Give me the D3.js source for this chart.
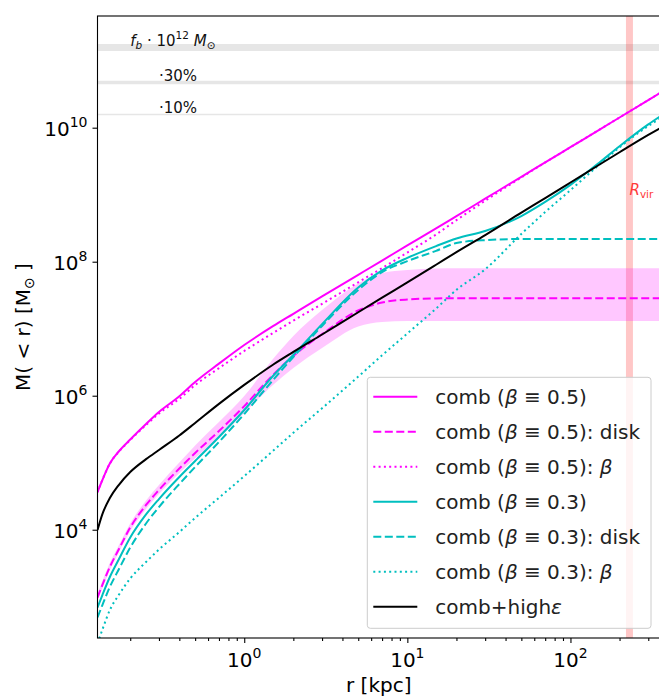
<!DOCTYPE html>
<html>
<head>
<meta charset="utf-8">
<script src="https://cdn.jsdelivr.net/npm/d3@7"></script>
<style>
  body { margin: 0; background: #fff; }
  svg { font-family: "DejaVu Sans", sans-serif; }
</style>
</head>
<body>
<div id="chart"></div>
<script>
var radius = [0.126, 0.135, 0.15, 0.17, 0.2, 0.25, 0.3, 0.4, 0.5, 0.7, 1, 1.5, 2, 3, 5, 7, 10, 15, 20, 30, 50, 70, 100, 150, 200, 300, 354];

// comb (beta = 0.5) - magenta
var combB05 = [3.64e4, 5.52e4, 9.7e4, 1.47e5, 2.22e5, 3.78e5, 5.71e5, 9.8e5, 1.6e6, 3.01e6, 5.71e6, 1.09e7, 1.67e7, 3.04e7, 6.38e7, 1.04e8, 1.75e8, 3.14e8, 4.79e8, 8.71e8, 1.85e9, 3.03e9, 5.12e9, 9.29e9, 1.42e10, 2.58e10, 3.29e10];
var combB05Disk = [973, 1.5e3, 2.78e3, 5.06e3, 1.08e4, 2.34e4, 3.92e4, 8.2e4, 1.4e5, 2.97e5, 7.0e5, 2.04e6, 3.92e6, 8.3e6, 1.87e7, 2.46e7, 2.73e7, 2.83e7, 2.85e7, 2.85e7, 2.85e7, 2.85e7, 2.85e7, 2.85e7, 2.85e7, 2.85e7, 2.85e7];
var combB05DiskLow = [877, 1.35e3, 2.5e3, 4.57e3, 9.55e3, 2.04e4, 3.41e4, 7.02e4, 1.17e5, 2.38e5, 5.52e5, 1.45e6, 2.59e6, 5.15e6, 1.08e7, 1.26e7, 1.3e7, 1.3e7, 1.3e7, 1.3e7, 1.3e7, 1.3e7, 1.3e7, 1.3e7, 1.3e7, 1.3e7, 1.3e7];
var combB05DiskHigh = [1.12e3, 1.72e3, 3.18e3, 5.81e3, 1.24e4, 2.73e4, 4.65e4, 1.01e5, 1.81e5, 4.05e5, 9.9e5, 3.53e6, 7.8e6, 1.9e7, 4.73e7, 6.78e7, 7.52e7, 7.92e7, 7.97e7, 7.97e7, 7.97e7, 7.97e7, 7.97e7, 7.97e7, 7.97e7, 7.97e7, 7.97e7];
var combB05Beta = [3.64e4, 5.52e4, 9.7e4, 1.45e5, 2.18e5, 3.66e5, 5.43e5, 9.0e5, 1.44e6, 2.58e6, 4.65e6, 8.6e6, 1.32e7, 2.35e7, 4.93e7, 8.04e7, 1.37e8, 2.55e8, 4.17e8, 8.13e8, 1.81e9, 3.03e9, 5.12e9, 9.29e9, 1.42e10, 2.58e10, 3.29e10];

// comb (beta = 0.3) - cyan
var combB03 = [690, 1.06e3, 1.97e3, 3.59e3, 7.65e3, 1.69e4, 2.87e4, 6.12e4, 1.06e5, 2.42e5, 6.12e5, 1.97e6, 4.05e6, 1.17e7, 4.12e7, 7.4e7, 1.14e8, 1.71e8, 2.22e8, 2.87e8, 4.8e8, 7.8e8, 1.4e9, 3.0e9, 5.3e9, 1.12e10, 1.47e10];
var combB03Disk = [490, 752, 1.4e3, 2.55e3, 5.42e3, 1.24e4, 2.18e4, 4.81e4, 8.63e4, 2.04e5, 5.33e5, 1.71e6, 3.78e6, 1.1e7, 3.78e7, 7.0e7, 1.02e8, 1.45e8, 1.9e8, 2.1e8, 2.18e8, 2.18e8, 2.18e8, 2.18e8, 2.18e8, 2.18e8, 2.18e8];
var combB03Beta = [200, 323, 634, 1.06e3, 1.87e3, 3.3e3, 5.06e3, 9.24e3, 1.5e4, 3.0e4, 6.3e4, 1.5e5, 2.8e5, 6.5e5, 1.93e6, 4.0e6, 8.5e6, 2.0e7, 3.8e7, 7.7e7, 2.6e8, 5.5e8, 1.17e9, 2.8e9, 5.1e9, 1.06e10, 1.37e10];

// comb + high epsilon - black
var combHighEps = [9.9e3, 1.71e4, 2.97e4, 4.64e4, 7.26e4, 1.13e5, 1.55e5, 2.55e5, 3.92e5, 7.56e5, 1.45e6, 2.9e6, 4.5e6, 8.2e6, 1.76e7, 2.9e7, 4.9e7, 9.0e7, 1.39e8, 2.5e8, 5.4e8, 8.9e8, 1.52e9, 2.8e9, 4.3e9, 7.8e9, 9.8e9];

// baryon budget reference lines
var fBaryonMass = 1.57e11;
var baryonFractions = [1, 0.3, 0.1];
var rVir = 230;

var xMajor = [1, 10, 100];
var xMinor = [0.2, 0.3, 0.4, 0.5, 0.6, 0.7, 0.8, 0.9, 2, 3, 4, 5, 6, 7, 8, 9, 20, 30, 40, 50, 60, 70, 80, 90, 200, 300];
var yMajor = [1e4, 1e6, 1e8, 1e10];

var svgWidth = 659;
var svgHeight = 697;

var margin = {
  top: 16,
  right: -1,
  bottom: 59,
  left: 97.5
};

var width = svgWidth - margin.left - margin.right;
var height = svgHeight - margin.top - margin.bottom;

var svg = d3.select("#chart")
  .append("svg")
  .attr("width", svgWidth)
  .attr("height", svgHeight);

var chartGroup = svg.append("g")
  .attr("transform", `translate(${margin.left}, ${margin.top})`);

var xLogScale = d3.scaleLog()
  .domain([0.126, 354])
  .range([0, width]);

var yLogScale = d3.scaleLog()
  .domain([Math.pow(10, 2.384), Math.pow(10, 11.667)])
  .range([height, 0]);

// text with math-like italic / sub / superscript pieces
function richText(sel, parts, size) {
  var prev = 0;
  parts.forEach(function(p) {
    var shift = p.sub ? 0.22 * size : (p.sup ? -0.45 * size : 0);
    sel.append("tspan")
      .attr("dy", shift - prev)
      .attr("font-size", (p.sub || p.sup) ? 0.7 * size : size)
      .attr("font-style", p.it ? "italic" : "normal")
      .text(p.t);
    prev = shift;
  });
  return sel;
}

chartGroup.append("clipPath")
  .attr("id", "plotClip")
  .append("rect")
  .attr("width", width)
  .attr("height", height);

var plot = chartGroup.append("g").attr("clip-path", "url(#plotClip)");

// horizontal baryon lines
var baryonWidths = [7, 3.5, 1.6];
baryonFractions.forEach(function(f, i) {
  plot.append("line")
    .attr("x1", 0)
    .attr("x2", width)
    .attr("y1", yLogScale(fBaryonMass * f))
    .attr("y2", yLogScale(fBaryonMass * f))
    .attr("stroke", "gray")
    .attr("stroke-opacity", 0.2)
    .attr("stroke-width", baryonWidths[i]);
});

// virial radius band
plot.append("line")
  .attr("x1", xLogScale(rVir))
  .attr("x2", xLogScale(rVir))
  .attr("y1", 0)
  .attr("y2", height)
  .attr("stroke", "red")
  .attr("stroke-opacity", 0.22)
  .attr("stroke-width", 7);

// disk uncertainty band
var bandData = radius.map(function(r, i) {
  return {r: r, lo: combB05DiskLow[i], hi: combB05DiskHigh[i]};
});

plot.append("path")
  .datum(bandData)
  .attr("fill", "magenta")
  .attr("fill-opacity", 0.22)
  .attr("d", d3.area()
    .x(d => xLogScale(d.r))
    .y0(d => yLogScale(d.lo))
    .y1(d => yLogScale(d.hi))
    .curve(d3.curveMonotoneX));

var magenta = "#ff00ff";
var cyan = "#00bfbf";
var dashed = "8,3.5";
var dotted = "2,3.3";

var series = [
  {values: combB05, color: magenta, dash: null,
    label: [{t: "comb ("}, {t: "β", it: true}, {t: " ≡ 0.5)"}]},
  {values: combB05Disk, color: magenta, dash: dashed,
    label: [{t: "comb ("}, {t: "β", it: true}, {t: " ≡ 0.5): disk"}]},
  {values: combB05Beta, color: magenta, dash: dotted,
    label: [{t: "comb ("}, {t: "β", it: true}, {t: " ≡ 0.5): "}, {t: "β", it: true}]},
  {values: combB03, color: cyan, dash: null,
    label: [{t: "comb ("}, {t: "β", it: true}, {t: " ≡ 0.3)"}]},
  {values: combB03Disk, color: cyan, dash: dashed,
    label: [{t: "comb ("}, {t: "β", it: true}, {t: " ≡ 0.3): disk"}]},
  {values: combB03Beta, color: cyan, dash: dotted,
    label: [{t: "comb ("}, {t: "β", it: true}, {t: " ≡ 0.3): "}, {t: "β", it: true}]},
  {values: combHighEps, color: "#000", dash: null,
    label: [{t: "comb+high"}, {t: "ε", it: true}]}
];

var line = d3.line()
  .x(d => xLogScale(d[0]))
  .y(d => yLogScale(d[1]))
  .curve(d3.curveMonotoneX);

series.forEach(function(s) {
  plot.append("path")
    .datum(radius.map((r, i) => [r, s.values[i]]))
    .attr("fill", "none")
    .attr("stroke", s.color)
    .attr("stroke-width", 2)
    .attr("stroke-dasharray", s.dash)
    .attr("d", line);
});

// annotations
var baryonLabels = [
  [{t: "f", it: true}, {t: "b", it: true, sub: true}, {t: " · 10"}, {t: "12", sup: true}, {t: " "}, {t: "M", it: true}, {t: "⊙", sub: true}],
  [{t: "·30%"}],
  [{t: "·10%"}]
];
var baryonLabelX = [0.2, 0.3, 0.3];
baryonLabels.forEach(function(parts, i) {
  var t = chartGroup.append("text")
    .attr("x", xLogScale(baryonLabelX[i]))
    .attr("y", yLogScale(fBaryonMass * baryonFractions[i]) - 1.5)
    .attr("font-size", 15)
    .attr("fill", "#111");
  richText(t, parts, 15);
});

var rvirText = chartGroup.append("text")
  .attr("x", xLogScale(rVir))
  .attr("y", yLogScale(1e9))
  .attr("font-size", 15)
  .attr("fill", "#ff3b3b");
richText(rvirText, [{t: "R", it: true}, {t: "vir", sub: true}], 15);

// axes
chartGroup.append("g")
  .attr("transform", `translate(0, ${height})`)
  .call(d3.axisBottom(xLogScale).tickValues(xMinor).tickSize(3).tickSizeOuter(0).tickFormat(""))
  .call(g => g.select(".domain").remove());

chartGroup.append("g")
  .attr("transform", `translate(0, ${height})`)
  .call(d3.axisBottom(xLogScale).tickValues(xMajor).tickSize(5).tickSizeOuter(0).tickFormat(""))
  .call(g => g.select(".domain").remove());

chartGroup.append("g")
  .call(d3.axisLeft(yLogScale).tickValues(yMajor).tickSize(5).tickSizeOuter(0).tickFormat(""))
  .call(g => g.select(".domain").remove());

chartGroup.selectAll(".tick line").attr("stroke-width", 1.1);

var tickFont = 20;

xMajor.forEach(function(v) {
  var t = chartGroup.append("text")
    .attr("x", xLogScale(v))
    .attr("y", height + 29)
    .attr("text-anchor", "middle")
    .attr("font-size", tickFont);
  richText(t, [{t: "10"}, {t: String(Math.round(Math.log10(v))), sup: true}], tickFont);
});

yMajor.forEach(function(v) {
  var t = chartGroup.append("text")
    .attr("x", -10)
    .attr("y", yLogScale(v) + 8)
    .attr("text-anchor", "end")
    .attr("font-size", tickFont);
  richText(t, [{t: "10"}, {t: String(Math.round(Math.log10(v))), sup: true}], tickFont);
});

chartGroup.append("rect")
  .attr("width", width)
  .attr("height", height)
  .attr("fill", "none")
  .attr("stroke", "#000")
  .attr("stroke-width", 1.1);

// axis labels
chartGroup.append("text")
  .attr("x", width / 2)
  .attr("y", height + 54)
  .attr("text-anchor", "middle")
  .attr("font-size", 20)
  .text("r [kpc]");

var yLabel = chartGroup.append("text")
  .attr("transform", `translate(${30 - margin.left}, ${height / 2}) rotate(-90)`)
  .attr("text-anchor", "middle")
  .attr("font-size", 20);
richText(yLabel, [{t: "M( < r) [M"}, {t: "⊙", sub: true}, {t: " ]"}], 20);

// legend
var legend = svg.append("g").attr("transform", "translate(367.3, 377.3)");

legend.append("rect")
  .attr("width", 283.7)
  .attr("height", 251)
  .attr("rx", 3)
  .attr("fill", "#fff")
  .attr("fill-opacity", 0.8)
  .attr("stroke", "#cccccc")
  .attr("stroke-width", 1);

series.forEach(function(s, i) {
  var cy = 19.4 + i * 35;
  legend.append("line")
    .attr("x1", 6)
    .attr("x2", 50)
    .attr("y1", cy)
    .attr("y2", cy)
    .attr("stroke", s.color)
    .attr("stroke-width", 2)
    .attr("stroke-dasharray", s.dash);
  var t = legend.append("text")
    .attr("x", 68)
    .attr("y", cy + 7.3)
    .attr("font-size", 20)
    .attr("fill", "#222");
  richText(t, s.label, 20);
});
</script>
</body>
</html>
